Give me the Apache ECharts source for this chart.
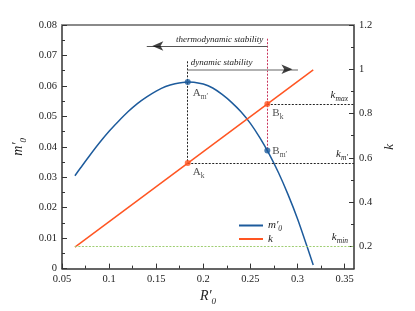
<!DOCTYPE html>
<html><head><meta charset="utf-8">
<script src="https://cdn.jsdelivr.net/npm/echarts@6/dist/echarts.min.js"></script>
<style>html,body{margin:0;padding:0;background:#fff}#c{width:415px;height:311px}</style>
</head><body><div id="c"></div>
<script>
// ---- data ----
const mCurveR = [0.0637,0.07,0.08,0.09,0.10,0.11,0.12,0.13,0.14,0.15,0.16,0.17,0.1835,0.19,0.20,0.21,0.22,0.23,0.24,0.25,0.26,0.27,0.28,0.29,0.30,0.31,0.3167];
const mCurveM = [0.0305,0.0332,0.0374,0.0414,0.0451,0.0484,0.0515,0.0542,0.0564,0.0583,0.0598,0.0607,0.0613,0.0612,0.0606,0.0593,0.0572,0.0546,0.0515,0.0477,0.0430,0.0376,0.0314,0.0243,0.0164,0.0074,0.0012];
const kLineR = [0.0637, 0.3167];
const kLineK = [0.197, 0.997];
const pointNames = ['A', 'B'];
const pointR = [0.1835, 0.268];
const pointM = [0.0613, 0.0388];
const pointK = [0.577, 0.843];
const kMin = 0.2;
const guideTopA = 1.036;   // top of A vertical (k units)
const guideTopB = 0.0755;  // top of B vertical (m units)
const thermoR = [0.14, 0.268];
const thermoK = 1.105;
const dynR = [0.1835, 0.3005];
const dynK = 1.0;
const xMin = 0.05, xMax = 0.36;
const xMajor = [0.05,0.1,0.15,0.2,0.25,0.3,0.35];
const xMinor = [0.075,0.125,0.175,0.225,0.275,0.325];
const kMajor = [0.2,0.4,0.6,0.8,1,1.2];
const kMinor = [0.3,0.5,0.7,0.9,1.1];

const serif = '"Liberation Serif","Times New Roman",serif';
const BLUE = '#1d5b9c', ORANGE = '#ff5522', AXIS = '#333';
const fmt = v => String(parseFloat((+v).toFixed(3)));

const richSym = (size, subSize) => ({
  i: {fontFamily: serif, fontStyle: 'italic', fontSize: size, lineHeight: size + 5, color: '#222'},
  r: {fontFamily: serif, fontSize: size, lineHeight: size + 5, color: '#222'},
  s: {fontFamily: serif, fontStyle: 'italic', fontSize: subSize, lineHeight: subSize, verticalAlign: 'bottom', color: '#222'},
  n: {fontFamily: serif, fontSize: subSize, lineHeight: subSize, verticalAlign: 'bottom', color: '#222'}
});

const chart = echarts.init(document.getElementById('c'), null, {renderer: 'canvas'});
const grid = {left: 62, right: 61, top: 25, bottom: 38};

const dotted = (color) => ({color: color, width: 1, type: [2, 1.5]});

const option = {
  animation: false,
  grid: grid,
  legend: {
    left: 239, top: 220, orient: 'vertical', padding: 0, itemGap: 0,
    itemWidth: 24, itemHeight: 2, icon: 'rect',
    data: ['m', 'k'],
    formatter: n => n === 'm' ? '{i|m′}{s|0}' : '{i|k}',
    textStyle: {rich: richSym(11, 7.5)}
  },
  xAxis: [
    {type: 'value', min: xMin, max: xMax, interval: 0.05, position: 'bottom',
     axisLine: {lineStyle: {color: AXIS, width: 1.5}},
     axisTick: {inside: true, length: 5, customValues: xMajor, lineStyle: {color: AXIS}},
     axisLabel: {customValues: xMajor, formatter: fmt, margin: 5, fontFamily: serif, fontSize: 10.5, color: '#222'},
     splitLine: {show: false},
     name: '{i|R′}{s|0}', nameLocation: 'middle', nameGap: 17,
     nameTextStyle: {rich: richSym(14, 9)}},
    {type: 'value', min: xMin, max: xMax, position: 'bottom',
     axisLine: {show: false},
     axisTick: {inside: true, length: 3, customValues: xMinor, lineStyle: {color: AXIS}},
     axisLabel: {show: false}, splitLine: {show: false}},
    {type: 'value', min: xMin, max: xMax, position: 'top',
     axisLine: {lineStyle: {color: '#8a8a8a', width: 2}},
     axisTick: {show: false}, axisLabel: {show: false}, splitLine: {show: false}}
  ],
  yAxis: [
    {type: 'value', min: 0, max: 0.08, interval: 0.01, position: 'left',
     axisLine: {show: true, lineStyle: {color: AXIS, width: 1.5}},
     axisTick: {show: true, inside: true, length: 5, lineStyle: {color: AXIS}},
     minorTick: {show: true, splitNumber: 2, length: 3, lineStyle: {color: AXIS}},
     axisLabel: {formatter: fmt, margin: 5, fontFamily: serif, fontSize: 10.5, color: '#222'},
     splitLine: {show: false},
     name: '{i|m′}{s|0}', nameLocation: 'middle', nameGap: 19,
     nameTextStyle: {rich: richSym(14, 9)}},
    {type: 'value', min: 0.1, max: 1.2, interval: 0.1, position: 'right',
     axisLine: {show: true, lineStyle: {color: AXIS, width: 1.5}},
     axisTick: {show: true, inside: true, length: 5, customValues: kMajor, lineStyle: {color: AXIS}},
     axisLabel: {customValues: kMajor, formatter: fmt, margin: 5, fontFamily: serif, fontSize: 10.5, color: '#222'},
     splitLine: {show: false},
     name: '{i|k}', nameLocation: 'middle', nameGap: 22,
     nameTextStyle: {rich: richSym(13, 9)}},
    {type: 'value', min: 0.1, max: 1.2, position: 'right',
     axisLine: {show: false},
     axisTick: {show: true, inside: true, length: 3, customValues: kMinor, lineStyle: {color: AXIS}},
     axisLabel: {show: false}, splitLine: {show: false}}
  ],
  series: [
    {name: 'm', type: 'line', xAxisIndex: 0, yAxisIndex: 0, smooth: 0.3, symbol: 'none',
     color: BLUE, lineStyle: {color: BLUE, width: 1.5}, z: 3,
     data: mCurveR.map((r, i) => [r, mCurveM[i]]),
     markLine: {silent: true, symbol: 'none', animation: false,
       data: [[{coord: [pointR[1], guideTopB], lineStyle: dotted('#c8325a'), label: {show: false}},
               {coord: [pointR[1], pointM[1]]}]]}},
    {name: 'k', type: 'line', xAxisIndex: 0, yAxisIndex: 1, symbol: 'none',
     color: ORANGE, lineStyle: {color: ORANGE, width: 1.5}, z: 3,
     data: kLineR.map((r, i) => [r, kLineK[i]]),
     markLine: {silent: true, symbol: 'none', animation: false,
       label: {fontFamily: serif},
       data: [
         [{coord: [pointR[0], guideTopA], lineStyle: dotted('#222'), label: {show: false}}, {coord: [pointR[0], pointK[0]]}],
         [{coord: [pointR[0], pointK[0]], lineStyle: dotted('#222'),
           label: {show: true, position: 'insideEndTop', distance: [6, 1], formatter: '{i|k}{s|m′}', rich: richSym(11, 7.5)}},
          {coord: [xMax, pointK[0]]}],
         [{coord: [pointR[1], pointK[1]], lineStyle: dotted('#222'),
           label: {show: true, position: 'insideEndTop', distance: [6, 1], formatter: '{i|k}{s|max}', rich: richSym(11, 7.5)}},
          {coord: [xMax, pointK[1]]}],
         [{coord: [kLineR[0], kMin], lineStyle: dotted('#9fce72'),
           label: {show: true, position: 'insideEndTop', distance: [6, 1], formatter: '{i|k}{s|min}', rich: richSym(11, 7.5)}},
          {coord: [xMax, kMin]}],
         [{coord: [thermoR[0], thermoK], lineStyle: {color: '#555', width: 1, type: 'solid'},
           label: {show: true, position: 'insideEndTop', distance: [4, 2], formatter: 'thermodynamic stability',
                   fontFamily: serif, fontStyle: 'italic', fontSize: 9, color: '#222'}},
          {coord: [thermoR[1], thermoK]}],
         [{coord: [dynR[0], dynK], lineStyle: {color: '#999', width: 1.5, type: 'solid'},
           label: {show: true, position: 'insideStartTop', distance: [3, 2], formatter: 'dynamic stability',
                   fontFamily: serif, fontStyle: 'italic', fontSize: 9, color: '#222'}},
          {coord: [dynR[1], dynK]}]
       ]}},
    {type: 'scatter', xAxisIndex: 0, yAxisIndex: 0, symbol: 'circle', symbolSize: 6,
     itemStyle: {color: BLUE}, z: 5,
     data: pointR.map((r, i) => ({value: [r, pointM[i]],
       label: {show: true, position: 'right', distance: 2, offset: i === 0 ? [0, 11] : [0, 1],
               formatter: '{r|' + pointNames[i] + '}{n|m′}', rich: richSym(11, 7.5)}}))},
    {type: 'scatter', xAxisIndex: 0, yAxisIndex: 1, symbol: 'circle', symbolSize: 6,
     itemStyle: {color: ORANGE}, z: 5,
     data: pointR.map((r, i) => ({value: [r, pointK[i]],
       label: {show: true, position: 'right', distance: 2, offset: [0, 9],
               formatter: '{r|' + pointNames[i] + '}{n|k}', rich: richSym(11, 7.5)}}))},
    {type: 'scatter', xAxisIndex: 0, yAxisIndex: 1, symbol: 'arrow', symbolSize: [7, 11],
     itemStyle: {color: '#111'}, z: 6, silent: true,
     data: [
       {value: [thermoR[0], thermoK], symbolRotate: 90, symbolOffset: [5.5, 0]},
       {value: [dynR[1], dynK], symbolRotate: -90, symbolOffset: [-5.5, 0]}
     ]}
  ]
};
chart.setOption(option);
</script>
</body></html>
